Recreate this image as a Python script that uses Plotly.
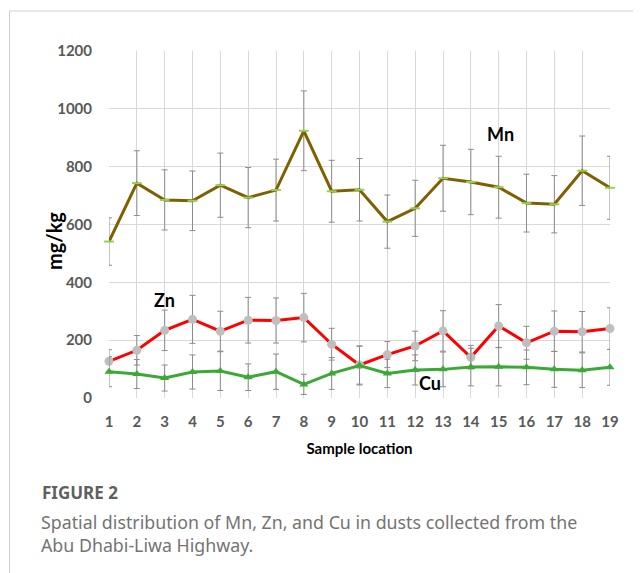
import plotly.graph_objects as go

locations = list(range(1, 20))
tick_labels = [str(i) for i in locations]

mn = [541, 743, 685, 682, 736, 693, 719, 924, 715, 720, 610, 656, 760, 747, 729, 674, 670, 786, 727]
mn_err = [82, 112, 104, 103, 111, 104, 107, 138, 107, 108, 92, 97, 114, 113, 107, 100, 99, 120, 109]

zn = [127, 165, 234, 272, 231, 269, 268, 278, 186, 114, 150, 180, 232, 141, 249, 191, 231, 229, 240]
zn_err = [40, 51, 70, 83, 69, 79, 78, 84, 55, 66, 45, 51, 70, 41, 74, 57, 70, 70, 72]

cu = [91, 83, 69, 90, 93, 72, 91, 47, 85, 112, 85, 97, 99, 107, 108, 106, 99, 96, 106]
cu_err = [52, 50, 45, 59, 67, 46, 61, 35, 55, 67, 49, 52, 60, 65, 66, 60, 62, 60, 62]

err_style = dict(type="data", thickness=1, width=3, color="#8c8c8c")

# page body has an 8px margin; figure sized to fit the 641x573 window
OFF = 8
W, H = 641 - OFF, 573 - OFF
l, t = 109 - OFF, 51 - OFF
pw, ph = 501, 347
r = W - l - pw
b = H - t - ph

def px_x(px):
    return (px - OFF - l) / pw

def px_y(py):
    return (H - b - (py - OFF)) / ph

fig = go.Figure()
fig.add_trace(go.Scatter(
    x=locations, y=mn, mode="lines+markers", name="Mn",
    line=dict(color="#7F6000", width=3),
    marker=dict(symbol="line-ew", size=7, line=dict(color="#92D050", width=2)),
    error_y=dict(array=mn_err, **err_style), cliponaxis=False))
fig.add_trace(go.Scatter(
    x=locations, y=zn, mode="lines+markers", name="Zn",
    line=dict(color="#FF0000", width=3),
    marker=dict(symbol="circle", size=9, color="#BFBFBF"),
    error_y=dict(array=zn_err, **err_style), cliponaxis=False))
fig.add_trace(go.Scatter(
    x=locations, y=cu, mode="lines+markers", name="Cu",
    line=dict(color="#3BAA34", width=3),
    marker=dict(symbol="triangle-up", size=8, color="#3BAA34"),
    error_y=dict(array=cu_err, **err_style), cliponaxis=False))

FONT = "Lato, Open Sans, sans-serif"
tick_font = dict(family=FONT, size=15, color="#595959", weight="bold")
label_font = dict(family=FONT, size=18, color="#000000")

fig.update_layout(
    width=W, height=H,
    margin=dict(l=l, r=r, t=t, b=b, autoexpand=False),
    paper_bgcolor="white", plot_bgcolor="white",
    showlegend=False,
    xaxis=dict(range=[1, 19], tickvals=locations, ticktext=tick_labels,
               showgrid=True, gridcolor="#d9d9d9", gridwidth=1,
               zeroline=False, showline=False, tickfont=tick_font, ticks="",
               ticklabelstandoff=13,
               title=dict(text="Sample location", standoff=14,
                          font=dict(family=FONT, size=15, color="#000000", weight="bold"))),
    yaxis=dict(range=[0, 1200], tickvals=[0, 200, 400, 600, 800, 1000, 1200],
               showgrid=True, gridcolor="#d9d9d9", gridwidth=1,
               zeroline=False, showline=False, tickfont=tick_font, ticks="",
               ticklabelstandoff=16),
    annotations=[
        dict(x=15.07, y=913, xref="x", yref="y", text="<b>Mn</b>", showarrow=False, font=label_font),
        dict(x=3.01, y=339, xref="x", yref="y", text="<b>Zn</b>", showarrow=False, font=label_font),
        dict(x=12.53, y=52, xref="x", yref="y", text="<b>Cu</b>", showarrow=False, font=label_font),
        dict(x=px_x(54), y=px_y(241), xref="paper", yref="paper", text="<b>mg/kg</b>",
             textangle=-90, showarrow=False, xanchor="center", yanchor="middle",
             font=dict(family=FONT, size=20, color="#000000")),
        dict(x=px_x(40), y=px_y(493), xref="paper", yref="paper", text="<b>FIGURE 2</b>", showarrow=False,
             xanchor="left", yanchor="middle",
             font=dict(family="Noto Sans, Open Sans, sans-serif", size=17, color="#5f5f5f")),
        dict(x=px_x(39), y=px_y(508), xref="paper", yref="paper",
             text="Spatial distribution of Mn, Zn, and Cu in dusts collected from the<br>Abu Dhabi-Liwa Highway.",
             showarrow=False, xanchor="left", yanchor="top", align="left",
             font=dict(family="Noto Sans, Open Sans, sans-serif", size=17.8, color="#747474")),
    ],
)

fig.add_shape(type="line", xref="paper", yref="paper",
              x0=px_x(9.5), x1=px_x(9.5), y0=px_y(11), y1=px_y(573),
              line=dict(color="#cfcfcf", width=1))
fig.add_shape(type="line", xref="paper", yref="paper",
              x0=px_x(9.5), x1=px_x(641), y0=px_y(11), y1=px_y(11),
              line=dict(color="#cfcfcf", width=1))

fig.write_html("out.html")
